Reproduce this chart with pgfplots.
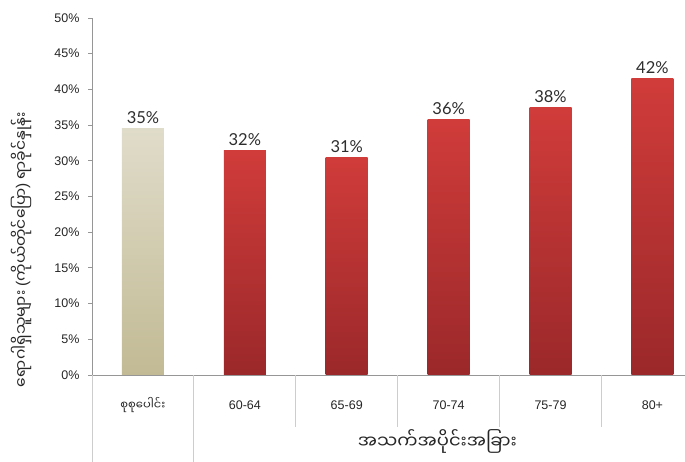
\documentclass[border=0pt]{standalone}
\usepackage{pgfplots}
\pgfplotsset{compat=1.18}
\usepackage{fontspec}
\setmainfont{Liberation Sans}
\newfontfamily\myfont[Script=Myanmar]{Noto Sans Myanmar UI}
\newfontfamily\parfont{Liberation Sans}
\newfontfamily\lblfont{Lato}
\definecolor{axisgray}{RGB}{150,150,150}
\definecolor{sepgray}{RGB}{205,205,205}
\definecolor{lbl}{RGB}{45,45,45}
\definecolor{redtop}{RGB}{208,60,58}
\definecolor{redbot}{RGB}{155,40,42}
\definecolor{beigetop}{RGB}{224,220,202}
\definecolor{beigebot}{RGB}{194,186,148}
\begin{document}
\begin{tikzpicture}
\path[use as bounding box] (0,0) rectangle (685pt,462pt);
\begin{axis}[
  at={(92pt,87pt)}, anchor=south west,
  scale only axis, width=593pt, height=357pt,
  xmin=-0.5, xmax=5.32, ymin=0, ymax=50,
  axis x line*=bottom, axis y line*=left,
  axis line style={draw=axisgray, line width=0.8pt, -},
  ytick={0,5,...,50},
  yticklabel={\pgfmathprintnumber{\tick}\%},
  /pgf/number format/assume math mode=true,
  yticklabel style={font=\fontsize{12.5}{14}\selectfont, text=black!85, xshift=-5pt},
  ytick style={draw=axisgray, line width=0.8pt},
  tick align=outside, major tick length=4pt,
  xtick={0,1,2,3,4,5},
  xticklabels={{\myfont\fontsize{11.5}{14}\selectfont စုစုပေါင်း},60-64,65-69,70-74,75-79,80+},
  xtick style={draw=none},
  xticklabel style={font=\fontsize{12.5}{14}\selectfont, text=black!85, anchor=base, yshift=-31pt},
  clip=false,
  point meta=explicit symbolic,
  nodes near coords,
  nodes near coords style={font=\lblfont\fontsize{16.5}{18}\selectfont, text=lbl, anchor=base, yshift=5pt},
]
\addplot[ybar, bar width=42pt, bar shift=0pt, draw=none, top color=beigetop, bottom color=beigebot] coordinates {(0,34.5) [35\%]};
\addplot[ybar, bar width=42pt, bar shift=0pt, draw=none, top color=redtop, bottom color=redbot] coordinates {(1,31.5) [32\%]};
\addplot[ybar, bar width=42pt, bar shift=0pt, draw=none, top color=redtop, bottom color=redbot] coordinates {(2,30.5) [31\%]};
\addplot[ybar, bar width=42pt, bar shift=0pt, draw=none, top color=redtop, bottom color=redbot] coordinates {(3,35.8) [36\%]};
\addplot[ybar, bar width=42pt, bar shift=0pt, draw=none, top color=redtop, bottom color=redbot] coordinates {(4,37.5) [38\%]};
\addplot[ybar, bar width=42pt, bar shift=0pt, draw=none, top color=redtop, bottom color=redbot] coordinates {(5,41.5) [42\%]};
\draw[sepgray, line width=0.8pt] (axis cs:-0.5,0) -- ([yshift=-87pt]axis cs:-0.5,0);
\draw[sepgray, line width=0.8pt] (axis cs:0.5,0) -- ([yshift=-87pt]axis cs:0.5,0);
\draw[sepgray, line width=0.8pt] (axis cs:1.5,0) -- ([yshift=-52pt]axis cs:1.5,0);
\draw[sepgray, line width=0.8pt] (axis cs:2.5,0) -- ([yshift=-52pt]axis cs:2.5,0);
\draw[sepgray, line width=0.8pt] (axis cs:3.5,0) -- ([yshift=-52pt]axis cs:3.5,0);
\draw[sepgray, line width=0.8pt] (axis cs:4.5,0) -- ([yshift=-52pt]axis cs:4.5,0);
\node[font=\myfont\fontsize{18}{20}\selectfont, text=black!85] at ([yshift=-66pt]axis cs:2.89,0) {အသက်အပိုင်းအခြား};
\end{axis}
\node[rotate=90, font=\myfont\fontsize{15.5}{18}\selectfont, text=black!85] at (21pt,212pt) {ရောဂါရှိသူများ {\parfont(}ကိုယ်တိုင်ပြော{\parfont)} ရာခိုင်နှုန်း};
\end{tikzpicture}
\end{document}
